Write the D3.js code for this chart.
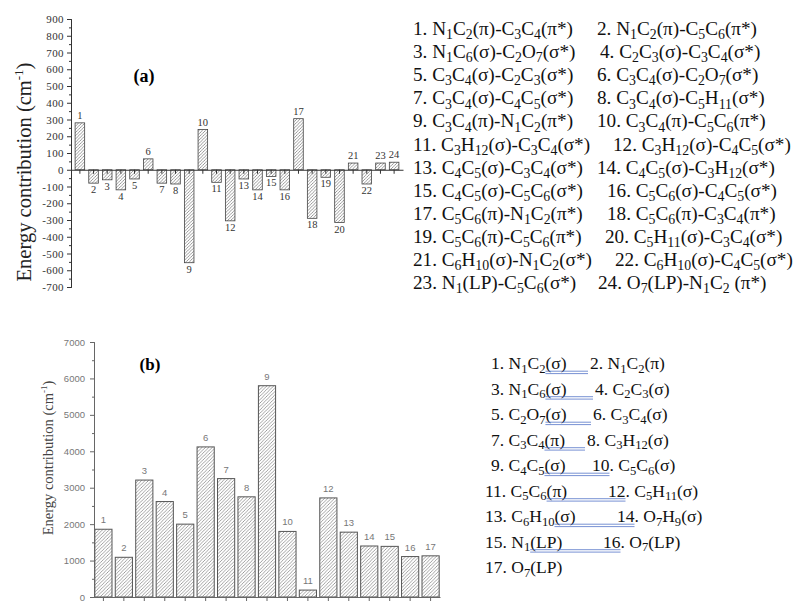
<!DOCTYPE html>
<html>
<head>
<meta charset="utf-8">
<script src="https://cdn.jsdelivr.net/npm/d3@7"></script>
<style>
  body { margin: 0; background: #fff; }
  svg { display: block; }
</style>
</head>
<body>
<div id="chart"></div>
<script>
// ---- data, panel (a) ----
var bondsA = d3.range(1, 25);
var energyA = [280, -80, -60, -120, -55, 65, -80, -85, -555, 240, -75, -305,
               -55, -120, -40, -120, 305, -290, -45, -315, 40, -85, 40, 45];
var ticksA = d3.range(-700, 901, 100);
var legendA = [
  "N_1C_2(π)-C_3C_4(π*)", "N_1C_2(π)-C_5C_6(π*)",
  "N_1C_6(σ)-C_2O_7(σ*)", "C_2C_3(σ)-C_3C_4(σ*)",
  "C_3C_4(σ)-C_2C_3(σ*)", "C_3C_4(σ)-C_2O_7(σ*)",
  "C_3C_4(σ)-C_4C_5(σ*)", "C_3C_4(σ)-C_5H_11(σ*)",
  "C_3C_4(π)-N_1C_2(π*)", "C_3C_4(π)-C_5C_6(π*)",
  "C_3H_12(σ)-C_3C_4(σ*)", "C_3H_12(σ)-C_4C_5(σ*)",
  "C_4C_5(σ)-C_3C_4(σ*)", "C_4C_5(σ)-C_3H_12(σ*)",
  "C_4C_5(σ)-C_5C_6(σ*)", "C_5C_6(σ)-C_4C_5(σ*)",
  "C_5C_6(π)-N_1C_2(π*)", "C_5C_6(π)-C_3C_4(π*)",
  "C_5C_6(π)-C_5C_6(π*)", "C_5H_11(σ)-C_3C_4(σ*)",
  "C_6H_10(σ)-N_1C_2(σ*)", "C_6H_10(σ)-C_4C_5(σ*)",
  "N_1(LP)-C_5C_6(σ*)", "O_7(LP)-N_1C_2 (π*)"
];

// ---- data, panel (b) ----
var bondsB = d3.range(1, 18);
var energyB = [1860, 1090, 3210, 2620, 2000, 4120, 3250, 2750, 5800, 1800, 190,
               2720, 1780, 1400, 1390, 1110, 1130];
var ticksB = d3.range(0, 7001, 1000);
var legendB = [
  "N_1C_2(σ)", "N_1C_2(π)", "N_1C_6(σ)", "C_2C_3(σ)", "C_2O_7(σ)", "C_3C_4(σ)",
  "C_3C_4(π)", "C_3H_12(σ)", "C_4C_5(σ)", "C_5C_6(σ)", "C_5C_6(π)", "C_5H_11(σ)",
  "C_6H_10(σ)", "O_7H_9(σ)", "N_1(LP)", "O_7(LP)", "O_7(LP)"
];

var serif = "'Liberation Serif', 'Times New Roman', serif";
var sans = "'Liberation Sans', Arial, sans-serif";

var svg = d3.select("#chart").append("svg")
    .attr("width", 796)
    .attr("height", 603)
    .style("font-family", serif);

// hatch patterns
var defs = svg.append("defs");
function hatch(id, step, col) {
  defs.append("pattern")
      .attr("id", id)
      .attr("patternUnits", "userSpaceOnUse")
      .attr("width", step).attr("height", step)
    .append("path")
      .attr("d", "M" + (-step/2) + "," + (step/2) + "l" + step + "," + (-step) +
                 "M0," + step + "l" + step + "," + (-step) +
                 "M" + (step/2) + "," + (step*1.5) + "l" + step + "," + (-step))
      .attr("stroke", col)
      .attr("stroke-width", 0.8);
}
hatch("hatchA", 3.2, "#808080");
hatch("hatchB", 3.4, "#8a8a8a");

// text with subscripts written as _n
function addRich(t, str, fs) {
  var down = false;
  str.split(/_(\d+)/).forEach(function(p, i) {
    if (!p) return;
    var isSub = i % 2 === 1, dy = 0;
    if (isSub && !down) { dy = fs * 0.22; down = true; }
    else if (!isSub && down) { dy = -fs * 0.22; down = false; }
    t.append("tspan").attr("dy", dy)
        .attr("font-size", isSub ? fs * 0.72 : fs)
        .text(p);
  });
  return t;
}

// ================= panel (a) =================
var xA = d3.scaleBand().domain(bondsA).range([71, 403]).padding(0.3);
var yA = d3.scaleLinear().domain([-700, 900]).range([287, 19]);

var gA = svg.append("g");

gA.append("g")
    .selectAll("rect")
    .data(bondsA)
    .enter()
    .append("rect")
        .attr("x", function(d) { return xA(d); })
        .attr("y", function(d, i) { return yA(Math.max(0, energyA[i])); })
        .attr("width", xA.bandwidth())
        .attr("height", function(d, i) { return Math.abs(yA(energyA[i]) - yA(0)); })
        .attr("fill", "url(#hatchA)")
        .attr("stroke", "#444")
        .attr("stroke-width", 0.8);

// zero line with ticks at each bar
var axA = gA.append("g")
    .attr("transform", "translate(0," + yA(0) + ")")
    .call(d3.axisBottom(xA).tickSizeInner(4).tickSizeOuter(0).tickFormat(""));
axA.selectAll("line, path").attr("stroke", "#333");

// minor ticks on y
gA.append("g")
    .attr("transform", "translate(71,0)")
    .call(d3.axisLeft(yA).tickValues(d3.range(-650, 900, 100)).tickSize(2).tickFormat(""))
    .selectAll("line, path").attr("stroke", "#333");
var ayA = gA.append("g")
    .attr("transform", "translate(71,0)")
    .call(d3.axisLeft(yA).tickValues(ticksA).tickSize(4).tickPadding(3)
            .tickFormat(function(d) { return String(d); }));
ayA.selectAll("line, path").attr("stroke", "#333");
ayA.selectAll("text")
    .attr("font-family", serif)
    .attr("font-size", 11)
    .attr("letter-spacing", 0.4)
    .attr("fill", "#333");

// bar numbers
gA.append("g")
    .selectAll("text")
    .data(bondsA)
    .enter()
    .append("text")
        .attr("x", function(d) { return xA(d) + xA.bandwidth() / 2; })
        .attr("y", function(d, i) {
            return energyA[i] >= 0 ? yA(energyA[i]) - 4 : yA(energyA[i]) + 10;
        })
        .attr("text-anchor", "middle")
        .attr("font-size", 10.5)
        .attr("fill", "#333")
        .text(function(d) { return d; });

var labA = gA.append("text")
    .attr("transform", "translate(31,172) rotate(-90)")
    .attr("text-anchor", "middle")
    .attr("font-size", 20.5)
    .attr("fill", "#222");
labA.append("tspan").text("Energy contribution (cm");
labA.append("tspan").attr("dy", -8).attr("font-size", 13).text("-1");
labA.append("tspan").attr("dy", 8).text(")");

gA.append("text")
    .attr("x", 144).attr("y", 82)
    .attr("text-anchor", "middle")
    .attr("font-size", 18)
    .attr("font-weight", "bold")
    .text("(a)");

// legend (a)
var colA2X = [597, 600, 597, 597, 597, 613, 597, 607, 607, 605, 615, 598];
var fsA = 19.2;
d3.range(12).forEach(function(r) {
  var y = 35 + r * 23.1;
  [0, 1].forEach(function(c) {
    var k = r * 2 + c;
    var t = svg.append("text")
        .attr("x", c === 0 ? 413 : colA2X[r])
        .attr("y", y)
        .attr("fill", "#111");
    addRich(t, (k + 1) + ". " + legendA[k], fsA);
  });
});

// ================= panel (b) =================
var xB = d3.scaleBand().domain(bondsB).range([94, 440]).paddingInner(0.16).paddingOuter(0.04);
var yB = d3.scaleLinear().domain([0, 7000]).range([597, 342]);

var gB = svg.append("g");

gB.append("g")
    .selectAll("rect")
    .data(bondsB)
    .enter()
    .append("rect")
        .attr("x", function(d) { return xB(d); })
        .attr("y", function(d, i) { return yB(energyB[i]); })
        .attr("width", xB.bandwidth())
        .attr("height", function(d, i) { return yB(0) - yB(energyB[i]); })
        .attr("fill", "url(#hatchB)")
        .attr("stroke", "#555")
        .attr("stroke-width", 1);

var axB = gB.append("g")
    .attr("transform", "translate(0," + yB(0) + ")")
    .call(d3.axisBottom(xB).tickSizeInner(4).tickSizeOuter(0).tickFormat(""));
axB.selectAll("line, path").attr("stroke", "#666");

gB.append("g")
    .attr("transform", "translate(94,0)")
    .call(d3.axisLeft(yB).tickValues(d3.range(500, 7000, 1000)).tickSize(2).tickFormat(""))
    .selectAll("line, path").attr("stroke", "#666");
var ayB = gB.append("g")
    .attr("transform", "translate(94,0)")
    .call(d3.axisLeft(yB).tickValues(ticksB).tickSize(4).tickPadding(5).tickFormat(d3.format("d")));
ayB.selectAll("line, path").attr("stroke", "#666");
ayB.selectAll("text")
    .attr("font-family", sans)
    .attr("font-size", 9.5)
    .attr("fill", "#777");

gB.append("g")
    .selectAll("text")
    .data(bondsB)
    .enter()
    .append("text")
        .attr("x", function(d) { return xB(d) + xB.bandwidth() / 2; })
        .attr("y", function(d, i) { return yB(energyB[i]) - 6; })
        .attr("text-anchor", "middle")
        .attr("font-family", sans)
        .attr("font-size", 9.5)
        .attr("fill", "#777")
        .text(function(d) { return d; });

var labB = gB.append("text")
    .attr("transform", "translate(53,458) rotate(-90)")
    .attr("text-anchor", "middle")
    .attr("font-size", 14.5)
    .attr("fill", "#444");
labB.append("tspan").text("Energy contribution (cm");
labB.append("tspan").attr("dy", -6).attr("font-size", 9).text("-1");
labB.append("tspan").attr("dy", 6).text(")");

gB.append("text")
    .attr("x", 150).attr("y", 370)
    .attr("text-anchor", "middle")
    .attr("font-size", 17)
    .attr("font-weight", "bold")
    .text("(b)");

// legend (b)
var colB2X = [590, 595, 593, 587, 592, 608, 617, 603];
var fsB = 17.5;
d3.range(9).forEach(function(r) {
  var y = 369 + r * 25.5;
  var k = r * 2;
  var x1 = k + 1 >= 10 ? 485 : 491;
  var t1 = addRich(svg.append("text").attr("x", x1).attr("y", y).attr("fill", "#111"),
                   (k + 1) + ". " + legendB[k], fsB);
  if (k + 1 >= legendB.length) return;
  var num2 = String(k + 2);
  var t2 = addRich(svg.append("text").attr("x", colB2X[r]).attr("y", y).attr("fill", "#111"),
                   num2 + ". " + legendB[k + 1], fsB);
  // blue double underline left by the word processor
  var n1 = t1.node();
  var s1 = n1.textContent;
  var u1 = n1.getStartPositionOfChar(s1.lastIndexOf("(")).x;
  var u2 = r < 4 ? colB2X[r] - 2
                 : t2.node().getEndPositionOfChar(num2.length - 1).x;
  [2.2, 4.6].forEach(function(off) {
    svg.append("line")
        .attr("x1", u1).attr("x2", u2)
        .attr("y1", y + off).attr("y2", y + off)
        .attr("stroke", "#3d62c0")
        .attr("stroke-width", 0.7);
  });
});
</script>
</body>
</html>
